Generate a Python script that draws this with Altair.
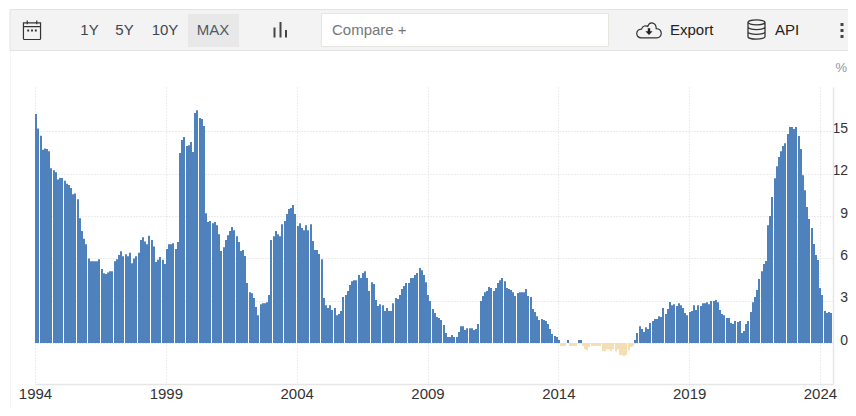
import altair as alt
import pandas as pd

y1994 = [16.23, 15.2, 14.7, 13.7, 13.8, 13.75, 13.6, 12.4, 12.25, 12.1, 11.6, 11.7]
y1995 = [11.7, 11.5, 11.3, 11.2, 11.0, 10.55, 10.6, 10.2, 8.85, 7.95, 7.4, 7.0]
y1996 = [6.0, 5.8, 5.8, 5.8, 5.8, 5.95, 5.25, 4.95, 4.9, 5.0, 5.1, 5.1]
y1997 = [5.8, 5.95, 6.25, 6.5, 6.15, 6.3, 6.15, 6.4, 5.65, 6.0, 6.15, 6.4]
y1998 = [7.3, 7.5, 7.2, 7.0, 7.6, 7.3, 6.85, 5.75, 5.9, 6.1, 5.9, 5.6]
y1999 = [6.66, 7.0, 7.0, 7.07, 6.66, 7.16, 13.47, 14.39, 14.6, 13.96, 14.03, 14.25]
y2000 = [13.54, 16.3, 16.51, 15.95, 15.88, 15.38, 9.21, 8.58, 8.65, 8.5, 8.58, 8.36]
y2001 = [7.72, 6.52, 6.8, 7.3, 7.65, 7.94, 8.22, 8.0, 7.58, 7.16, 6.52, 6.59]
y2002 = [6.17, 4.25, 3.61, 3.54, 3.19, 2.55, 1.98, 2.76, 2.83, 2.83, 2.9, 3.4]
y2003 = [7.3, 7.58, 7.94, 7.72, 7.58, 8.43, 8.65, 9.14, 9.5, 9.57, 9.78, 9.14]
y2004 = [8.29, 8.5, 8.15, 8.0, 8.36, 8.0, 8.43, 7.23, 6.59, 6.59, 6.31, 5.95]
y2005 = [3.19, 2.69, 2.48, 2.69, 2.34, 2.48, 1.98, 2.06, 2.27, 3.26, 3.4, 3.69]
y2006 = [4.11, 4.39, 4.46, 4.46, 4.82, 4.61, 4.96, 5.1, 4.61, 3.69, 4.32, 4.18]
y2007 = [3.05, 2.62, 2.76, 2.69, 2.27, 2.48, 2.27, 2.27, 2.83, 3.19, 3.12, 3.4]
y2008 = [3.83, 4.04, 4.25, 4.25, 4.61, 4.61, 4.82, 4.96, 5.32, 5.17, 4.82, 4.32]
y2009 = [3.4, 2.98, 2.41, 2.13, 1.84, 1.77, 1.63, 1.28, 0.71, 0.43, 0.43, 0.57]
y2010 = [0.43, 0.43, 0.78, 1.2, 1.2, 0.92, 1.06, 1.06, 1.06, 0.92, 0.99, 1.35]
y2011 = [2.98, 3.33, 3.61, 3.69, 3.97, 3.9, 3.69, 3.9, 4.25, 4.46, 4.61, 4.39]
y2012 = [3.9, 3.83, 3.76, 3.61, 3.33, 3.55, 3.61, 3.61, 3.61, 3.83, 3.33, 3.26]
y2013 = [2.41, 2.2, 1.91, 1.63, 1.7, 1.63, 1.56, 1.35, 0.99, 0.64, 0.5, 0.43]
y2014 = [0.21, -0.21, -0.21, -0.21, 0.21, -0.21, -0.21, -0.21, -0.21, 0.21, 0.21, -0.21]
y2015 = [-0.43, -0.5, -0.28, -0.21, -0.21, -0.21, -0.21, -0.21, -0.57, -0.57, -0.43, -0.43]
y2016 = [-0.57, -0.43, -0.57, -0.43, -0.85, -0.85, -0.92, -0.85, -0.5, -0.28, -0.21, 0.21]
y2017 = [0.71, 1.2, 0.99, 0.78, 1.13, 0.99, 1.42, 1.56, 1.7, 1.7, 1.91, 1.84]
y2018 = [2.48, 2.06, 2.41, 2.91, 2.69, 2.76, 2.62, 2.83, 2.69, 2.48, 2.13, 1.98]
y2019 = [2.2, 2.27, 2.69, 2.34, 2.69, 2.62, 2.83, 2.83, 2.9, 2.76, 2.98, 2.98]
y2020 = [3.05, 2.9, 2.34, 2.06, 1.98, 1.77, 1.77, 1.42, 1.35, 1.56, 1.49, 1.56]
y2021 = [0.71, 0.85, 1.35, 1.56, 2.2, 2.9, 3.26, 3.76, 4.54, 5.1, 5.6, 5.81]
y2022 = [8.36, 9.0, 10.35, 11.69, 12.54, 13.18, 13.6, 13.96, 14.17, 14.81, 15.31, 15.31]
y2023 = [15.17, 15.31, 14.67, 13.75, 11.9, 10.84, 9.64, 8.79, 8.15, 7.02, 6.24, 5.88]
y2024 = [3.9, 3.4, 2.27, 2.13, 2.2, 2.13]

values = (y1994 + y1995 + y1996 + y1997 + y1998 + y1999 + y2000 + y2001 + y2002 + y2003
          + y2004 + y2005 + y2006 + y2007 + y2008 + y2009 + y2010 + y2011 + y2012 + y2013
          + y2014 + y2015 + y2016 + y2017 + y2018 + y2019 + y2020 + y2021 + y2022 + y2023 + y2024)
tick_years = [1994, 1999, 2004, 2009, 2014, 2019, 2024]
y_ticks = [0, 3, 6, 9, 12, 15]

PLOT_W = 798
d0 = pd.Timestamp("1994-01-01")
d1 = pd.Timestamp("2024-07-01")
span = d1 - d0

# Each month's column is snapped to whole pixels of the time axis, as a crisp column renderer does.
def snapped(i):
    return int(i * 2.178 + 0.73)

starts = [d0 + span * (snapped(i) / PLOT_W) for i in range(len(values))]
ends = [d0 + span * ((snapped(i) + 2) / PLOT_W) for i in range(len(values))]
df = pd.DataFrame({"start": starts, "end": ends, "value": values})

FONT = "Liberation Sans"
ORIGIN_X, ORIGIN_Y = 35, 87
GRID = "#d8d8d8"
AXIS_LINE = "#e6e6e6"

x_axis = alt.Axis(
    values=[alt.DateTime(year=y, month=1, date=1) for y in tick_years],
    format="%Y", title=None, grid=True, gridColor=GRID, gridDash=[1, 2], gridWidth=1,
    ticks=False, domain=True, domainColor=AXIS_LINE, domainWidth=1.5,
    labelFont=FONT, labelFontSize=15, labelColor="#333333", labelPadding=2, labelAngle=0,
    labelOverlap=False, labelFlush=False,
)
y_axis = alt.Axis(
    values=y_ticks, orient="right", title=None, grid=True, gridColor=GRID, gridDash=[1, 2],
    gridWidth=1, ticks=False, domain=True, domainColor=AXIS_LINE, domainWidth=1.5,
    labelFont=FONT, labelFontSize=14, labelColor="#333333", labelAlign="right",
    labelPadding=14.5, labelOffset=-3,
)

bars = alt.Chart(df).mark_bar().encode(
    x=alt.X("start:T", axis=x_axis, scale=alt.Scale(domain=[
        alt.DateTime(year=1994, month=1, date=1), alt.DateTime(year=2024, month=7, date=1)])),
    x2="end:T",
    y=alt.Y("value:Q", axis=y_axis, scale=alt.Scale(domain=[-2.9, 18.15], nice=False, zero=False)),
    y2=alt.Y2Datum(0),
    color=alt.condition(alt.datum.value < 0, alt.value("#f5deb3"), alt.value("#4f81bd")),
)

one = pd.DataFrame({"a": [0]})


def box(x1, y1, x2, y2, fill, stroke=None):
    kw = {"fill": fill}
    if stroke:
        kw["stroke"] = stroke
        kw["strokeWidth"] = 1
    return alt.Chart(one).mark_rect(clip=False, **kw).encode(
        x=alt.value(x1 - ORIGIN_X), x2=alt.value(x2 - ORIGIN_X),
        y=alt.value(y1 - ORIGIN_Y), y2=alt.value(y2 - ORIGIN_Y))


def label(text, x, y, size=15, color="#333333", align="left"):
    return alt.Chart(one).mark_text(font=FONT, fontSize=size, color=color, align=align,
                                    baseline="middle").encode(
        x=alt.value(x - ORIGIN_X), y=alt.value(y - ORIGIN_Y), text=alt.value(text))


def icon(path, x, y, half, stroke="#333333", fill=None, width=1.2):
    kw = dict(shape=path, size=(2 * half) ** 2, opacity=1)
    if fill:
        kw.update(filled=True, fill=fill, strokeWidth=0)
    else:
        kw.update(filled=False, stroke=stroke, strokeWidth=width)
    return alt.Chart(one).mark_point(**kw).encode(
        x=alt.value(x - ORIGIN_X), y=alt.value(y - ORIGIN_Y))


CALENDAR = ("M-0.9,-0.75 H0.9 V0.9 Q0.9,1 0.8,1 H-0.8 Q-0.9,1 -0.9,0.9 Z "
            "M-0.9,-0.35 H0.9 M-0.5,-1 V-0.6 M0.5,-1 V-0.6")
CAL_DOTS = ("M-0.5,-0.05 h0.2 v0.2 h-0.2 Z M-0.1,-0.05 h0.2 v0.2 h-0.2 Z M0.3,-0.05 h0.2 v0.2 h-0.2 Z")
CLOUD = ("M-0.65,0.65 C-1.15,0.65 -1.15,-0.05 -0.62,-0.08 C-0.55,-0.35 -0.25,-0.4 -0.1,-0.3 "
         "C0.05,-0.75 0.6,-0.65 0.6,-0.12 C1.15,-0.1 1.15,0.65 0.65,0.65 Z")
ARROW = "M-0.1,-0.15 H0.1 V0.1 H0.3 L0,0.42 L-0.3,0.1 H-0.1 Z"
DB = ("M-0.85,-0.72 A0.85,0.25 0 1 1 0.85,-0.72 A0.85,0.25 0 1 1 -0.85,-0.72 "
      "M-0.85,-0.72 V0.72 A0.85,0.25 0 0 0 0.85,0.72 V-0.72 "
      "M-0.85,-0.24 A0.85,0.25 0 0 0 0.85,-0.24 M-0.85,0.24 A0.85,0.25 0 0 0 0.85,0.24")

layers = [
    bars,
    box(10, 50, 10.8, 416, "#f2f2f2"),
    box(10, 9.5, 860, 50.5, "#f3f3f3", "#e3e3e3"),
    box(188, 14, 239, 47, "#e8e8e8"),
    box(321.5, 13.5, 608.5, 46.5, "#ffffff", "#e6e6e0"),
    icon(CALENDAR, 32, 30, 9.5),
    icon(CAL_DOTS, 32, 30, 9.5, fill="#333333"),
    label("1Y", 89.5, 30, color="#3c4650", align="center"),
    label("5Y", 124.5, 30, color="#3c4650", align="center"),
    label("10Y", 165, 30, color="#3c4650", align="center"),
    label("MAX", 213, 30, color="#505a64", align="center"),
    box(273.5, 27.5, 275.5, 37.5, "#444444"),
    box(279.5, 22, 281.5, 37.5, "#444444"),
    box(285, 30, 287, 37.5, "#444444"),
    label("Compare +", 332, 30, color="#777777"),
    icon(CLOUD, 649, 30, 12),
    icon(ARROW, 649, 30, 12, fill="#222222"),
    label("Export", 670, 30, color="#222222"),
    icon(DB, 756.5, 29.5, 10, width=1.3),
    label("API", 775, 30, color="#222222"),
    box(840.5, 23, 843.5, 26, "#444444"),
    box(840.5, 29, 843.5, 32, "#444444"),
    box(840.5, 35, 843.5, 38, "#444444"),
    label("%", 835.5, 68, size=13, color="#8a97a8"),
]

chart = alt.layer(*layers).properties(
    width=PLOT_W, height=297,
    autosize=alt.AutoSizeParams(type="none"),
    padding={"left": 27, "top": 79, "right": 15, "bottom": 24},
    background="#ffffff",
).configure_view(stroke=None)

chart.save("out.html", embed_options={"renderer": "svg", "actions": False})
